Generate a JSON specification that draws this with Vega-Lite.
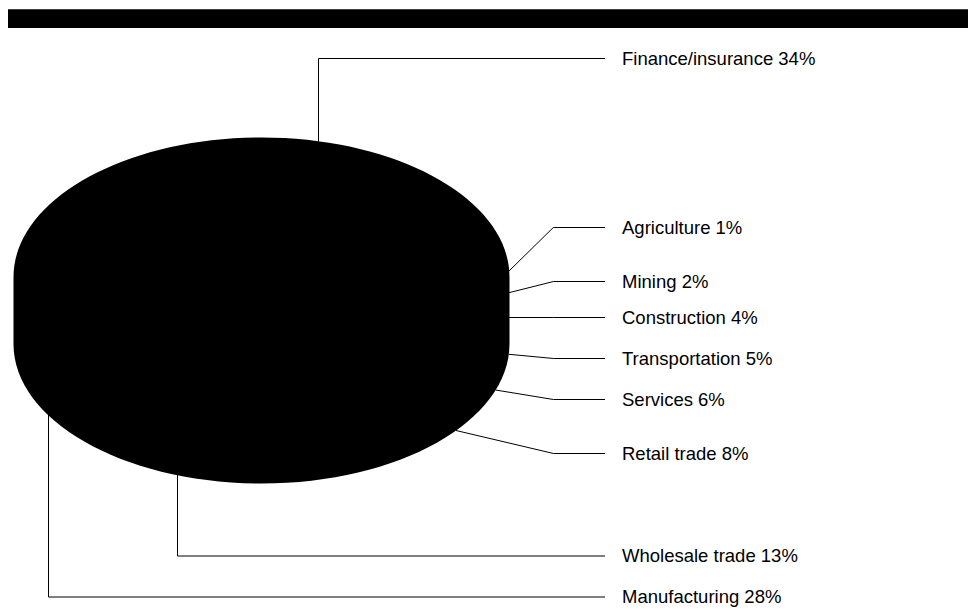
{
  "$schema": "https://vega.github.io/schema/vega-lite/v6.json",
  "width": 974,
  "height": 610,
  "padding": 0,
  "autosize": {"type": "none"},
  "background": "white",
  "config": {"view": {"stroke": null}},
  "datasets": {
    "sectors": [
      {"category": "Finance/insurance", "pct": 34, "startX": 318.5, "startY": 141.7, "elbowX": 318.5, "elbowY": 58.5},
      {"category": "Agriculture", "pct": 1, "startX": 508.3, "startY": 271.7, "elbowX": 553.3, "elbowY": 227.5},
      {"category": "Mining", "pct": 2, "startX": 509, "startY": 292.7, "elbowX": 553.5, "elbowY": 281.5},
      {"category": "Construction", "pct": 4, "startX": 509, "startY": 317.5, "elbowX": 553.5, "elbowY": 317.5},
      {"category": "Transportation", "pct": 5, "startX": 509, "startY": 354.3, "elbowX": 553.5, "elbowY": 358.5},
      {"category": "Services", "pct": 6, "startX": 495.5, "startY": 390, "elbowX": 553.5, "elbowY": 399.5},
      {"category": "Retail trade", "pct": 8, "startX": 456, "startY": 430.5, "elbowX": 553.5, "elbowY": 453.5},
      {"category": "Wholesale trade", "pct": 13, "startX": 177.5, "startY": 474.3, "elbowX": 177.5, "elbowY": 556},
      {"category": "Manufacturing", "pct": 28, "startX": 48.5, "startY": 405, "elbowX": 48.5, "elbowY": 597}
    ]
  },
  "layer": [
    {
      "data": {"values": [{"band": "header"}]},
      "mark": {"type": "rect", "color": "black"},
      "encoding": {
        "x": {"datum": 8, "type": "quantitative", "scale": {"domain": [0, 974], "nice": false, "zero": false}, "axis": null},
        "x2": {"datum": 968},
        "y": {"datum": 9.3, "type": "quantitative", "scale": {"domain": [0, 610], "reverse": true, "nice": false, "zero": false}, "axis": null},
        "y2": {"datum": 28}
      }
    },
    {
      "data": {"name": "sectors"},
      "transform": [{"aggregate": [{"op": "sum", "field": "pct", "as": "total"}]}],
      "mark": {
        "type": "point",
        "shape": "M -1 -0.135 C -1 -0.4457 -0.5523 -0.6975 0 -0.6975 C 0.5523 -0.6975 1 -0.4457 1 -0.135 L 1 0.135 C 1 0.4457 0.5523 0.6975 0 0.6975 C -0.5523 0.6975 -1 0.4457 -1 0.135 Z",
        "filled": true,
        "color": "black",
        "opacity": 1,
        "size": 246016
      },
      "encoding": {
        "x": {"datum": 261.5, "type": "quantitative", "scale": {"domain": [0, 974], "nice": false, "zero": false}, "axis": null},
        "y": {"datum": 310.5, "type": "quantitative", "scale": {"domain": [0, 610], "reverse": true, "nice": false, "zero": false}, "axis": null}
      }
    },
    {
      "data": {"name": "sectors"},
      "mark": {"type": "rule", "color": "black", "strokeWidth": 1},
      "encoding": {
        "x": {"field": "startX", "type": "quantitative", "scale": {"domain": [0, 974], "nice": false, "zero": false}, "axis": null},
        "y": {"field": "startY", "type": "quantitative", "scale": {"domain": [0, 610], "reverse": true, "nice": false, "zero": false}, "axis": null},
        "x2": {"field": "elbowX"},
        "y2": {"field": "elbowY"}
      }
    },
    {
      "data": {"name": "sectors"},
      "mark": {"type": "rule", "color": "black", "strokeWidth": 1},
      "encoding": {
        "x": {"field": "elbowX", "type": "quantitative", "scale": {"domain": [0, 974], "nice": false, "zero": false}, "axis": null},
        "y": {"field": "elbowY", "type": "quantitative", "scale": {"domain": [0, 610], "reverse": true, "nice": false, "zero": false}, "axis": null},
        "x2": {"datum": 605},
        "y2": {"field": "elbowY"}
      }
    },
    {
      "data": {"name": "sectors"},
      "transform": [{"calculate": "datum.category + ' ' + datum.pct + '%'", "as": "label"}],
      "mark": {"type": "text", "align": "left", "baseline": "middle", "dx": 17, "font": "Liberation Sans", "fontSize": 18.5, "color": "black"},
      "encoding": {
        "x": {"datum": 605, "type": "quantitative", "scale": {"domain": [0, 974], "nice": false, "zero": false}, "axis": null},
        "y": {"field": "elbowY", "type": "quantitative", "scale": {"domain": [0, 610], "reverse": true, "nice": false, "zero": false}, "axis": null},
        "text": {"field": "label"}
      }
    }
  ]
}
